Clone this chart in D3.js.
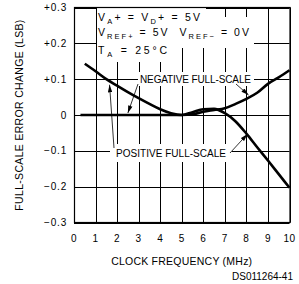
<!DOCTYPE html>
<html>
<head>
<meta charset="utf-8">
<script src="https://cdn.jsdelivr.net/npm/d3@7"></script>
<style>
  body { margin: 0; background: #fff; }
  svg text { font-family: "Liberation Sans Narrow", "Liberation Sans", Arial, sans-serif; fill: #000; white-space: pre; }
</style>
</head>
<body>
<div id="chart"></div>
<script>
// clock frequency (MHz) vs full-scale error change (LSB)
var posFreq = [0.5, 1, 1.5, 2, 2.5, 3, 3.5, 4, 4.5, 5, 5.5, 6, 6.5, 7, 7.5, 8, 8.5, 9, 9.5, 10];
var posError = [0.143, 0.122, 0.1, 0.082, 0.064, 0.047, 0.031, 0.016, 0.005, 0.0, 0.008, 0.016, 0.017, 0.005, -0.018, -0.052, -0.09, -0.127, -0.165, -0.203];
var negFreq = [0.3, 1, 2, 3, 4, 5, 5.5, 6, 6.5, 7, 7.5, 8, 8.5, 9, 9.5, 10];
var negError = [0, 0, 0, 0, 0, 0, 0.002, 0.009, 0.014, 0.019, 0.031, 0.045, 0.062, 0.087, 0.105, 0.125];
var xTicks = [0, 1, 2, 3, 4, 5, 6, 7, 8, 9, 10];
var yTicks = [-0.3, -0.2, -0.1, 0, 0.1, 0.2, 0.3];
var yTickLabels = ['\u22120.3', '\u22120.2', '\u22120.1', '0', '+0.1', '+0.2', '+0.3'];

var width = 299, height = 284;
var margin = { left: 74, top: 7.5, right: 9.5, bottom: 61.5 };
var plotW = width - margin.left - margin.right,
    plotH = height - margin.top - margin.bottom;

var x = d3.scaleLinear().domain([0, 10]).range([margin.left, margin.left + plotW]);
var y = d3.scaleLinear().domain([-0.3, 0.3]).range([margin.top + plotH, margin.top]);

var svg = d3.select('#chart').append('svg').attr('width', width).attr('height', height);

// spread letters so a label fills the width it has in the drawing
function fit(sel, target) {
    sel.attr('letter-spacing', 0);
    var w = sel.node().getComputedTextLength();
    var n = sel.text().length;
    sel.attr('letter-spacing', (target - w) / (n - 1));
    return sel;
}

// grid
var grid = svg.append('g');
grid.selectAll('line.v').data(xTicks).enter().append('line')
    .attr('x1', function (d) { return Math.round(x(d)) + 0.5; })
    .attr('x2', function (d) { return Math.round(x(d)) + 0.5; })
    .attr('y1', y(0.3)).attr('y2', y(-0.3))
    .attr('stroke', '#000').attr('stroke-width', 1);
grid.selectAll('line.h').data(yTicks).enter().append('line')
    .attr('y1', function (d) { return Math.round(y(d)) + 0.5; })
    .attr('y2', function (d) { return Math.round(y(d)) + 0.5; })
    .attr('x1', x(0)).attr('x2', x(10))
    .attr('stroke', '#000').attr('stroke-width', 1);

// tick labels
svg.append('g').selectAll('text').data(yTicks).enter().append('text')
    .attr('x', margin.left - 7).attr('y', function (d) { return y(d); })
    .attr('dy', '0.36em').attr('text-anchor', 'end')
    .attr('font-size', 10).attr('letter-spacing', 0.8)
    .text(function (d, i) { return yTickLabels[i]; });
svg.append('g').selectAll('text').data(xTicks).enter().append('text')
    .attr('x', function (d) { return x(d); }).attr('y', 242)
    .attr('text-anchor', 'middle')
    .attr('font-size', 10).attr('letter-spacing', 0.5)
    .text(function (d) { return d; });

// axis titles
fit(svg.append('text').attr('x', x(5)).attr('y', 265).attr('text-anchor', 'middle')
    .attr('font-size', 10.5).text('CLOCK FREQUENCY (MHz)'), 141);
fit(svg.append('text').attr('transform', 'translate(23,' + y(0) + ') rotate(-90)')
    .attr('text-anchor', 'middle').attr('font-size', 10.5)
    .text('FULL-SCALE ERROR CHANGE (LSB)'), 191);
svg.append('text').attr('x', 293).attr('y', 280).attr('text-anchor', 'end')
    .attr('font-size', 10).style('font-family', '"Liberation Sans", Arial, sans-serif')
    .text('DS011264-41');

// conditions block, white behind each line
var notes = svg.append('g');
function blank(x0, y0, x1, y1) {
    notes.append('rect').attr('x', x0).attr('y', y0)
        .attr('width', x1 - x0).attr('height', y1 - y0).attr('fill', '#fff');
}
blank(97, 8, 206, 17);
blank(97, 17, 254, 48);
blank(97, 48, 173, 62);
blank(138, 72, 254, 86);
blank(110, 144, 232, 162);

function noteLine(yPos, parts, target) {
    var t = notes.append('text').attr('x', 98).attr('y', yPos).attr('font-size', 10.5);
    parts.forEach(function (p) {
        var s = t.append('tspan').text(p[0]);
        if (p[1]) s.attr('font-size', 7.5).attr('dy', 3);
        else if (p[2]) s.attr('dy', -3);
    });
    return fit(t, target);
}
noteLine(21, [['V'], ['A', 1], ['+ = V', 0, 1], ['D', 1], ['+ = 5V', 0, 1]], 102);
noteLine(36, [['V'], ['REF+', 1], [' = 5V  V', 0, 1], ['REF\u2212', 1], [' = 0V', 0, 1]], 151);
noteLine(54, [['T'], ['A', 1], [' = 25\u00b0C', 0, 1]], 69);

fit(notes.append('text').attr('x', 140).attr('y', 83).attr('font-size', 10)
    .text('NEGATIVE FULL-SCALE'), 111);
fit(notes.append('text').attr('x', 116).attr('y', 157).attr('font-size', 10)
    .text('POSITIVE FULL-SCALE'), 110);

// curves
var line = d3.line()
    .x(function (d) { return x(d[0]); })
    .y(function (d) { return y(d[1]); })
    .curve(d3.curveMonotoneX);

svg.append('path').datum(d3.zip(negFreq, negError))
    .attr('d', line).attr('fill', 'none').attr('stroke', '#000').attr('stroke-width', 2.6);
svg.append('path').datum(d3.zip(posFreq, posError))
    .attr('d', line).attr('fill', 'none').attr('stroke', '#000').attr('stroke-width', 2.6);

// leader arrows
svg.append('defs').append('marker')
    .attr('id', 'head').attr('viewBox', '0 0 10 6').attr('refX', 10).attr('refY', 3)
    .attr('markerWidth', 8).attr('markerHeight', 4.5).attr('markerUnits', 'userSpaceOnUse')
    .attr('orient', 'auto')
    .append('path').attr('d', 'M0,0L10,3L0,6Z').attr('fill', '#000');

var leaders = [
    [138, 84, x(2.5), y(0) - 2],
    [236, 84, x(8.1), y(0.05) - 2],
    [114, 148, x(1.65), y(0.09) + 2],
    [230, 153, x(8.05), y(-0.056) - 1]
];
svg.append('g').selectAll('line').data(leaders).enter().append('line')
    .attr('x1', function (d) { return d[0]; }).attr('y1', function (d) { return d[1]; })
    .attr('x2', function (d) { return d[2]; }).attr('y2', function (d) { return d[3]; })
    .attr('stroke', '#000').attr('stroke-width', 0.8).attr('marker-end', 'url(#head)');

// frame
svg.append('rect').attr('x', x(0) + 0.5).attr('y', y(0.3))
    .attr('width', x(10) - x(0)).attr('height', y(-0.3) - y(0.3))
    .attr('fill', 'none').attr('stroke', '#000').attr('stroke-width', 1.2);
</script>
</body>
</html>
